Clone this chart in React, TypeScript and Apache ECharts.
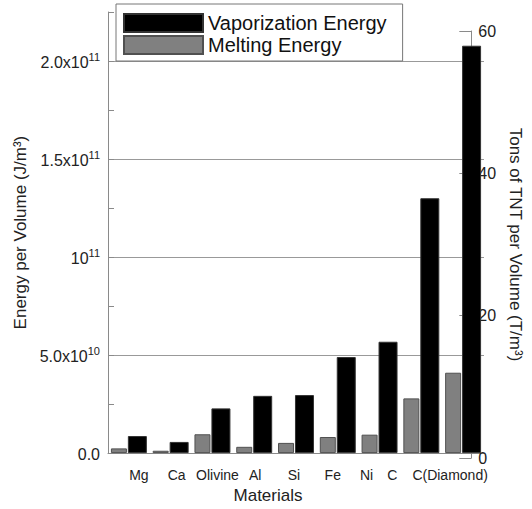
import React, { useEffect, useRef } from 'react';
import * as echarts from 'echarts';

const categories = ['Mg', 'Ca', 'Olivine', 'Al', 'Si', 'Fe', 'Ni', 'C', 'C(Diamond)'];
const vaporizationEnergy = [8.7e9, 5.7e9, 2.28e10, 2.92e10, 2.96e10, 4.9e10, 5.68e10, 1.3e11, 2.078e11];
const meltingEnergy = [2.4e9, 1.2e9, 9.6e9, 3.2e9, 5.2e9, 8.2e9, 9.4e9, 2.79e10, 4.1e10];
const leftTickValues = [0, 5e10, 1e11, 1.5e11, 2e11];
const leftTickBase = ['0.0', '5.0x10', '10', '1.5x10', '2.0x10'];
const leftTickExp = ['', '10', '11', '11', '11'];
const rightTickLabels = [0, 20, 40, 60];
const labelShift = [10, 6, 5, 1, -2, -5, -13, -29, -13];

const FONT = 'Liberation Sans, Arial, sans-serif';
const AXIS_GRAY = '#8a8a8a';

export default function App() {
  const ref = useRef<HTMLDivElement>(null);

  useEffect(() => {
    if (!ref.current) return;
    const chart = echarts.init(ref.current, undefined, { renderer: 'svg' });

    const catRich: Record<string, any> = {};
    labelShift.forEach((d, i) => {
      catRich['c' + i] = {
        fontSize: 14,
        color: '#222',
        fontFamily: FONT,
        padding: d >= 0 ? [0, 0, 0, 2 * d] : [0, -2 * d, 0, 0],
      };
    });

    const option: any = {
      animation: false,
      textStyle: { fontFamily: FONT },
      legend: {
        orient: 'vertical',
        left: 116,
        top: 4,
        data: ['Vaporization Energy', 'Melting Energy'],
        backgroundColor: '#fff',
        borderColor: '#777',
        borderWidth: 1,
        borderRadius: 0,
        padding: [9, 16, 6, 7],
        itemWidth: 79,
        itemHeight: 18,
        itemGap: 2,
        icon: 'rect',
        textStyle: { fontSize: 20, color: '#111', fontFamily: FONT },
      },
      grid: [
        { left: 108, right: 48, top: 12, bottom: 51, containLabel: false },
        { left: 108, right: 48, top: 31, bottom: 51, containLabel: false },
      ],
      xAxis: [
        {
          type: 'category',
          gridIndex: 0,
          data: categories,
          boundaryGap: true,
          axisLine: { lineStyle: { color: AXIS_GRAY, width: 1 } },
          axisTick: { show: false },
          axisLabel: {
            margin: 15,
            interval: 0,
            formatter: (v: string, i: number) => `{c${i}|${v}}`,
            rich: catRich,
          },
          name: 'Materials',
          nameLocation: 'middle',
          nameGap: 31,
          nameTextStyle: { fontSize: 17, color: '#222', padding: [0, 56, 0, 0], fontFamily: FONT },
        },
        {
          type: 'category',
          gridIndex: 1,
          data: categories,
          show: false,
        },
      ],
      yAxis: [
        {
          type: 'value',
          gridIndex: 0,
          position: 'left',
          min: 0,
          max: 2.25e11,
          interval: 2.5e10,
          axisLine: { show: true, lineStyle: { color: AXIS_GRAY, width: 1 } },
          axisTick: { show: true, inside: true, length: 6, lineStyle: { color: AXIS_GRAY } },
          splitLine: {
            show: true,
            lineStyle: { color: ['#999', 'rgba(0,0,0,0)'], width: 1 },
          },
          axisLabel: {
            margin: 8,
            formatter: (value: number) => {
              const idx = leftTickValues.findIndex((t) => Math.abs(t - value) < 1);
              if (idx < 0) return '';
              return leftTickExp[idx]
                ? `{b|${leftTickBase[idx]}}{s|${leftTickExp[idx]}}`
                : `{b|${leftTickBase[idx]}}`;
            },
            rich: {
              b: { fontSize: 16, color: '#222', fontFamily: FONT, verticalAlign: 'bottom', lineHeight: 18 },
              s: { fontSize: 11, color: '#222', fontFamily: FONT, verticalAlign: 'bottom', lineHeight: 18, padding: [0, 0, 8, 0] },
            },
          },
          name: 'Energy per Volume (J/m³)',
          nameLocation: 'middle',
          nameGap: 74,
          nameTextStyle: { fontSize: 17, color: '#222', fontFamily: FONT },
        },
        {
          type: 'value',
          gridIndex: 1,
          position: 'right',
          min: 0,
          max: 60,
          interval: 20,
          axisLine: { show: true, lineStyle: { color: AXIS_GRAY, width: 1 } },
          axisTick: { show: true, inside: true, length: 12, lineStyle: { color: AXIS_GRAY } },
          minorTick: { show: true, splitNumber: 2, length: 6, lineStyle: { color: AXIS_GRAY } },
          splitLine: { show: false },
          axisLabel: {
            margin: 7,
            fontSize: 16,
            color: '#222',
            formatter: (value: number) => (rightTickLabels.includes(value) ? String(value) : ''),
          },
          name: 'Tons of TNT per Volume (T/m³)',
          nameLocation: 'middle',
          nameRotate: -90,
          nameGap: 35,
          nameTextStyle: { fontSize: 17, color: '#222', fontFamily: FONT },
        },
      ],
      series: [
        {
          name: 'Melting Energy',
          type: 'bar',
          xAxisIndex: 0,
          yAxisIndex: 0,
          data: meltingEnergy,
          barWidth: 16,
          barGap: '6%',
          itemStyle: { color: '#808080', borderColor: '#505050', borderWidth: 1 },
        },
        {
          name: 'Vaporization Energy',
          type: 'bar',
          xAxisIndex: 0,
          yAxisIndex: 0,
          data: vaporizationEnergy,
          barWidth: 19,
          barGap: '6%',
          itemStyle: { color: '#000', borderColor: '#333', borderWidth: 1 },
        },
      ],
    };

    chart.setOption(option);
    return () => chart.dispose();
  }, []);

  return <div ref={ref} style={{ width: 532, height: 509, position: 'absolute', left: 0, top: 0 }} />;
}
